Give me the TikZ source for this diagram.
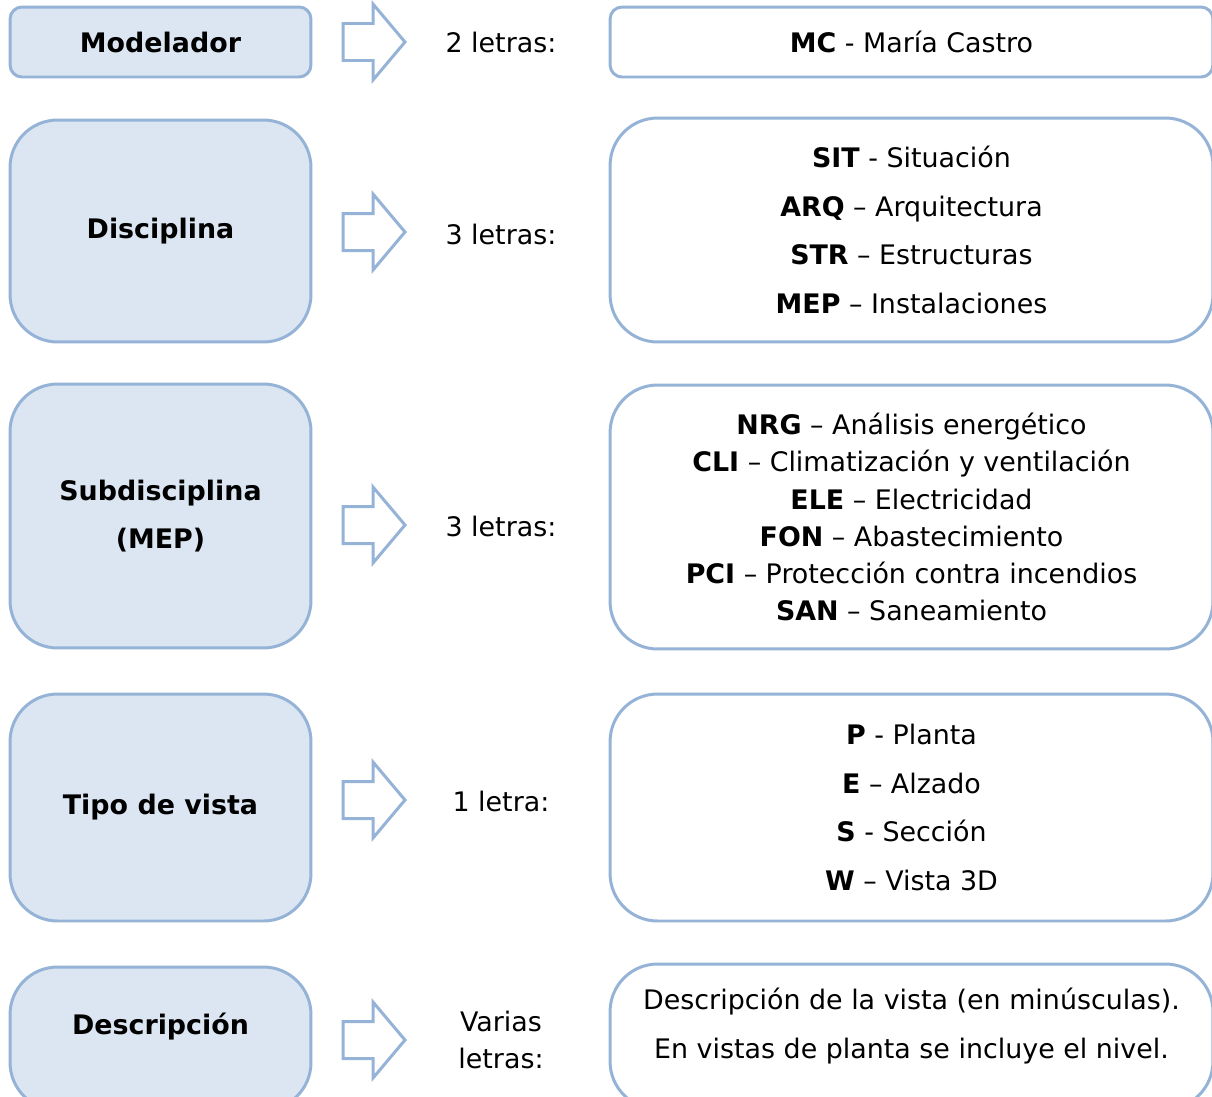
\documentclass[tikz,border=0pt]{standalone}
\usepackage{fontspec}
\setmainfont{DejaVu Sans}
\usepackage{tikz}
\usetikzlibrary{positioning}

\definecolor{boxfill}{RGB}{220,230,242}
\definecolor{boxline}{RGB}{149,179,215}

\begin{document}
\fontsize{15.3}{27.8}\selectfont
\begin{tikzpicture}[x=0.02cm, y=-0.02cm,
  campo/.style={draw=boxline, fill=boxfill, line width=1.7pt, minimum width=6.02cm, align=center, font=\bfseries, rounded corners=0.95cm},
  valor/.style={draw=boxline, fill=white, line width=1.7pt, minimum width=12.06cm, align=center, rounded corners=0.95cm},
  letras/.style={align=center},
  bloque/.pic={\draw[boxline, line width=1.7pt, fill=white] (-31,-18.5) -- (-1,-18.5) -- (-1,-38) -- (31,0) -- (-1,38) -- (-1,18.5) -- (-31,18.5) -- cycle;}]
  \clip (0,0) rectangle (1212,1096);

  % fila 1
  \node[campo, minimum height=1.4cm, rounded corners=0.24cm] (modelador) at (160.5,42) {Modelador};
  \node[valor, minimum height=1.4cm, rounded corners=0.24cm] (mod-val) at (911.5,42) {\textbf{MC} - María Castro};
  \node[letras] (l-mod) at (501,42) {2 letras:};

  % fila 2
  \node[campo, minimum height=4.44cm] (disciplina) at (160.5,231) {Disciplina};
  \node[valor, minimum height=4.48cm] (disc-val) at (911.5,230) {\textbf{SIT} - Situación\\\textbf{ARQ} – Arquitectura\\\textbf{STR} – Estructuras\\\textbf{MEP} – Instalaciones};
  \node[letras] (l-disc) at (501,234) {3 letras:};

  % fila 3
  \node[campo, minimum height=5.28cm] (subdisc) at (160.5,516) {Subdisciplina\\(MEP)};
  \node[valor, minimum height=5.28cm, font=\fontsize{15.3}{21.1}\selectfont] (subdisc-val) at (911.5,517) {\textbf{NRG} – Análisis energético\\\textbf{CLI} – Climatización y ventilación\\\textbf{ELE} – Electricidad\\\textbf{FON} – Abastecimiento\\\textbf{PCI} – Protección contra incendios\\\textbf{SAN} – Saneamiento};
  \node[letras] (l-subdisc) at (501,526) {3 letras:};

  % fila 4
  \node[campo, minimum height=4.54cm] (vista) at (160.5,807.5) {Tipo de vista};
  \node[valor, minimum height=4.54cm] (vista-val) at (911.5,807.5) {\textbf{P} - Planta\\\textbf{E} – Alzado\\\textbf{S} - Sección\\\textbf{W} – Vista 3D};
  \node[letras] (l-vista) at (501,801) {1 letra:};

  % fila 5
  \node[campo, minimum height=2.86cm] (descripcion) at (160.5,1038.5) {};
  \node[font=\bfseries] (desc-txt) at (160.5,1027) {Descripción};
  \node[valor, minimum height=2.9cm] (desc-val) at (911.5,1036.5) {};
  \node[letras] (desc-lineas) at (911.5,1026) {Descripción de la vista (en minúsculas).\\En vistas de planta se incluye el nivel.};
  \node[letras, font=\fontsize{15.3}{21}\selectfont] (l-desc) at (501,1040) {Varias\\letras:};

  \foreach \y in {42,232,525,800,1040}
    \pic at (374,\y) {bloque};
\end{tikzpicture}
\end{document}
